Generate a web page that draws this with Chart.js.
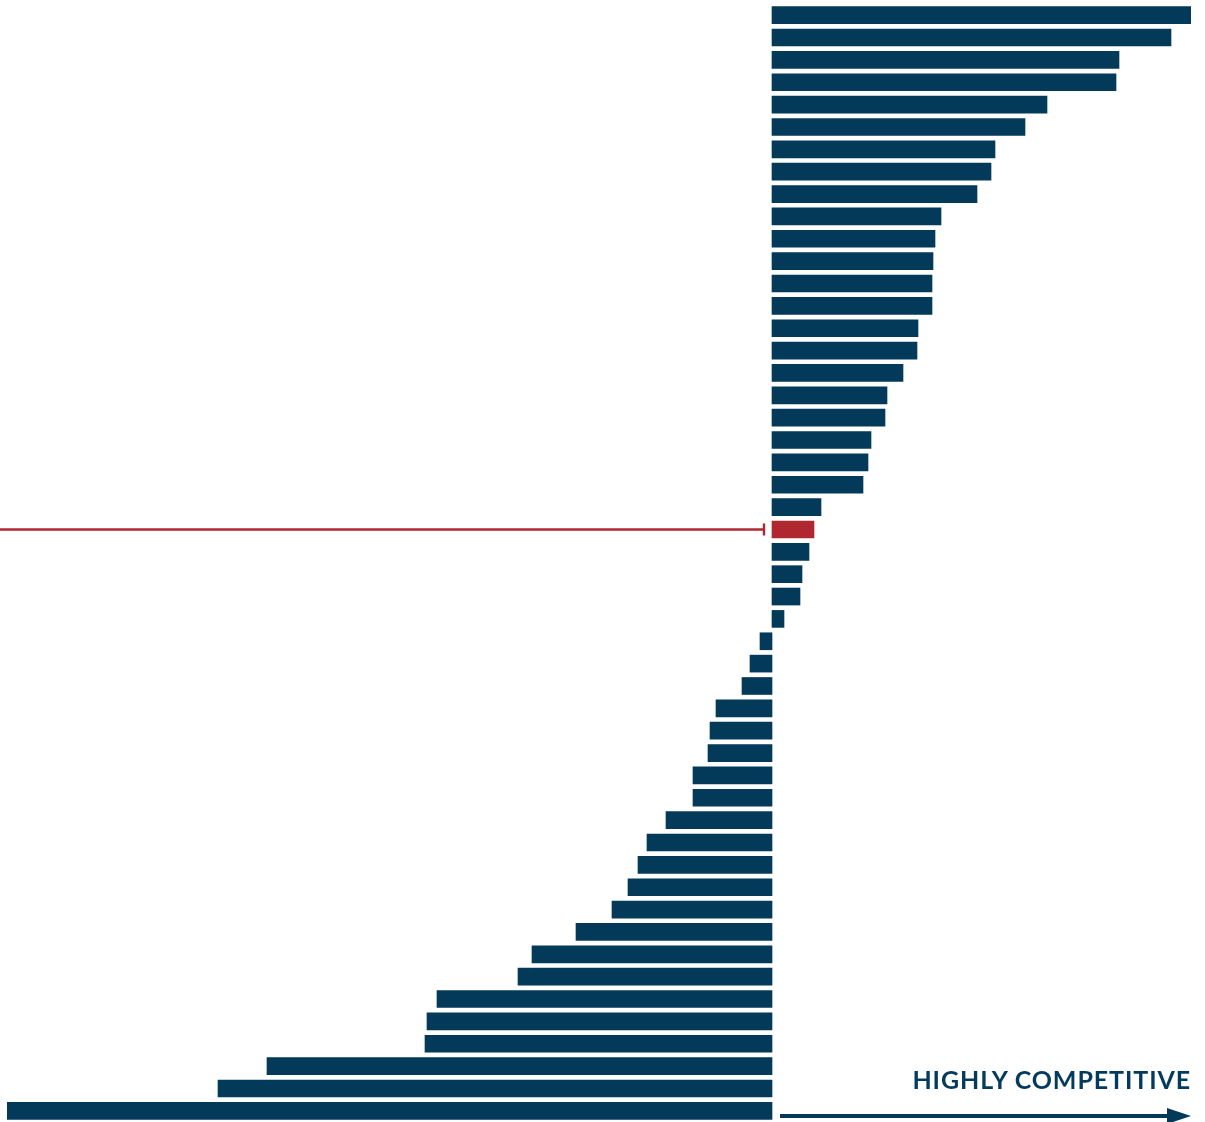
<!DOCTYPE html>
<html lang="en">
<head>
    <meta charset="UTF-8">
    <title>Highly competitive</title>
    <script src="https://cdn.jsdelivr.net/npm/chart.js"></script>
    <style>
        body {
            margin: 0;
            background: #ffffff;
        }
        .wrap {
            position: relative;
            width: 1205px;
            height: 1122px;
        }
        .caption {
            position: absolute;
            right: 14px;
            top: 1064px;
            font-family: Lato, "Open Sans", sans-serif;
            font-weight: 700;
            font-size: 25px;
            color: #043a5c;
            letter-spacing: 0.9px;
        }
    </style>
</head>
<body>
<div class="wrap">
    <canvas id="bars" width="1205" height="1122"></canvas>
    <div class="caption">HIGHLY COMPETITIVE</div>
</div>
<script>
    // values, one per bar, top to bottom
    const categories = [];
    for (let i = 1; i <= 50; i++) categories.push('#' + i);

    const values = [
        419, 399, 347, 344, 275, 253, 223, 219, 205, 169,
        163, 161, 160, 160, 146, 145, 131, 115, 113, 99,
        96, 91, 49, 42, 37, 30, 28, 12, -12, -22,
        -30, -56, -62, -64, -79, -79, -106, -125, -134, -144,
        -160, -196, -240, -254, -335, -345, -347, -505, -554, -765
    ];

    const highlightIndex = 23;
    const navy = '#033a5a';
    const red = '#b0282f';

    const colors = values.map((v, i) => i === highlightIndex ? red : navy);

    // red marker line + arrow under the chart
    const extras = {
        id: 'extras',
        afterDatasetsDraw(chart) {
            const ctx = chart.ctx;
            const x = chart.scales.x;
            const y = chart.scales.y;
            const zero = x.getPixelForValue(0);
            const yy = y.getPixelForValue(highlightIndex);

            ctx.save();
            ctx.strokeStyle = red;
            ctx.lineWidth = 2.4;
            ctx.beginPath();
            ctx.moveTo(0, yy);
            ctx.lineTo(zero - 8, yy);
            ctx.stroke();
            ctx.beginPath();
            ctx.moveTo(zero - 8, yy - 6);
            ctx.lineTo(zero - 8, yy + 6);
            ctx.stroke();

            const ay = 1116;
            const ax0 = zero + 8;
            const ax1 = x.right;
            ctx.strokeStyle = navy;
            ctx.fillStyle = navy;
            ctx.lineWidth = 4;
            ctx.beginPath();
            ctx.moveTo(ax0, ay);
            ctx.lineTo(ax1 - 14, ay);
            ctx.stroke();
            ctx.beginPath();
            ctx.moveTo(ax1, ay);
            ctx.lineTo(ax1 - 24, ay - 8);
            ctx.lineTo(ax1 - 24, ay + 8);
            ctx.closePath();
            ctx.fill();
            ctx.restore();
        }
    };

    new Chart(document.getElementById('bars'), {
        type: 'bar',
        data: {
            labels: categories,
            datasets: [{
                data: values,
                backgroundColor: colors,
                barThickness: 17,
                categoryPercentage: 1,
                borderWidth: 0
            }]
        },
        options: {
            indexAxis: 'y',
            responsive: false,
            animation: false,
            layout: { padding: { left: 7, right: 14, top: 4, bottom: 0 } },
            plugins: {
                legend: { display: false },
                tooltip: { enabled: false }
            },
            scales: {
                x: { display: false, min: -765, max: 419 },
                y: { display: false }
            }
        },
        plugins: [extras]
    });
</script>
</body>
</html>
